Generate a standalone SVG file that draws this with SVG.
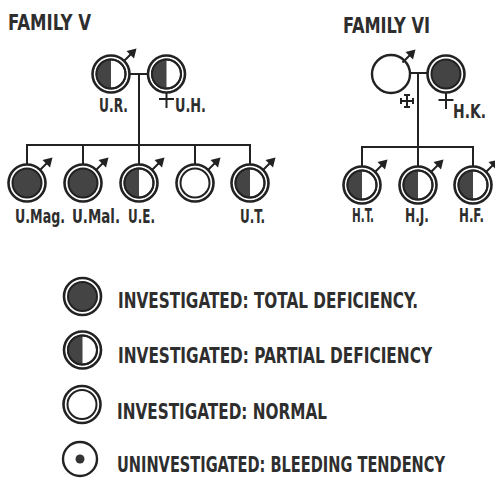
<svg xmlns="http://www.w3.org/2000/svg" xmlns:xlink="http://www.w3.org/1999/xlink" width="495" height="479" viewBox="0 0 495 479">
  <style>
    .ln { stroke: #222; stroke-width: 2; fill: none; stroke-linecap: butt; }
    .outer { stroke: #222; stroke-width: 2.6; fill: #fff; }
    .inner { stroke: #222; stroke-width: 2; fill: #fff; }
    .full { stroke: #222; stroke-width: 2; fill: #444; }
    .dark { fill: #444; stroke: none; }
    .arrowhead { fill: #222; stroke: none; }
    .txt { font-family: "DejaVu Sans Condensed", "Liberation Sans Narrow", "DejaVu Sans", sans-serif; font-weight: bold; fill: #2e2e2e; }
    .title { font-size: 21px; }
    .name { font-size: 20px; }
    .key { font-size: 21px; }
  </style>
  <defs>
    <!-- male sign: arrow leaving the ring at upper right -->
    <g id="mars">
      <line class="ln" x1="12.5" y1="-12.5" x2="21" y2="-21"/>
      <polygon class="arrowhead" points="25.5,-25.5 15.5,-23 23,-15.5"/>
    </g>
    <!-- female sign: stem and bar under the ring -->
    <g id="venus">
      <line class="ln" x1="0" y1="18" x2="0" y2="34"/>
      <line class="ln" x1="-7.5" y1="25" x2="7.5" y2="25"/>
    </g>
    <!-- status symbols -->
    <g id="total">
      <circle class="outer" r="18.5"/>
      <circle class="full" r="14.5"/>
    </g>
    <g id="partial">
      <circle class="outer" r="18.5"/>
      <circle class="inner" r="14.5"/>
      <path class="dark" d="M0,-14.5 A14.5,14.5 0 0,0 0,14.5 Z"/>
      <circle cx="0" cy="0" r="14.5" fill="none" stroke="#222" stroke-width="2"/>
    </g>
    <g id="normal">
      <circle class="outer" r="18.5"/>
      <circle class="inner" r="14.5"/>
    </g>
  </defs>

  <rect width="495" height="479" fill="#fff"/>

  <!-- connectors -->
  <g id="connectors">
    <!-- family V -->
    <line class="ln" x1="130" y1="74" x2="148" y2="74"/>
    <line class="ln" x1="139" y1="74" x2="139" y2="145"/>
    <line class="ln" x1="26" y1="145" x2="251" y2="145"/>
    <line class="ln" x1="27" y1="144" x2="27" y2="164"/>
    <line class="ln" x1="83" y1="144" x2="83" y2="164"/>
    <line class="ln" x1="139" y1="144" x2="139" y2="164"/>
    <line class="ln" x1="195" y1="144" x2="195" y2="164"/>
    <line class="ln" x1="250" y1="144" x2="250" y2="164"/>
    <!-- family VI -->
    <line class="ln" x1="410" y1="73" x2="428" y2="73"/>
    <line class="ln" x1="418" y1="73" x2="418" y2="147"/>
    <line class="ln" x1="361" y1="147" x2="474" y2="147"/>
    <line class="ln" x1="362" y1="146" x2="362" y2="166"/>
    <line class="ln" x1="418" y1="146" x2="418" y2="166"/>
    <line class="ln" x1="473" y1="146" x2="473" y2="166"/>
  </g>

  <!-- family headings -->
  <text class="txt title" x="8" y="30" textLength="83" lengthAdjust="spacingAndGlyphs">FAMILY V</text>
  <text class="txt title" x="343" y="33" textLength="87" lengthAdjust="spacingAndGlyphs">FAMILY VI</text>

  <!-- family V parents -->
  <g id="node-UR">
    <use xlink:href="#partial" x="111" y="74"/>
    <use xlink:href="#mars" x="111" y="74"/>
    <text class="txt name" x="99" y="112" textLength="29" lengthAdjust="spacingAndGlyphs">U.R.</text>
  </g>
  <g id="node-UH">
    <use xlink:href="#partial" x="166.5" y="74"/>
    <use xlink:href="#venus" x="166.5" y="74"/>
    <text class="txt name" x="175" y="112" textLength="31" lengthAdjust="spacingAndGlyphs">U.H.</text>
  </g>

  <!-- family V children -->
  <g id="node-UMag">
    <use xlink:href="#total" x="27" y="183"/>
    <use xlink:href="#mars" x="27" y="183"/>
    <text class="txt name" x="15" y="223" textLength="50" lengthAdjust="spacingAndGlyphs">U.Mag.</text>
  </g>
  <g id="node-UMal">
    <use xlink:href="#total" x="83" y="183"/>
    <use xlink:href="#mars" x="83" y="183"/>
    <text class="txt name" x="72" y="223" textLength="48" lengthAdjust="spacingAndGlyphs">U.Mal.</text>
  </g>
  <g id="node-UE">
    <use xlink:href="#partial" x="139" y="183"/>
    <use xlink:href="#mars" x="139" y="183"/>
    <text class="txt name" x="128" y="223" textLength="27" lengthAdjust="spacingAndGlyphs">U.E.</text>
  </g>
  <g id="node-V4">
    <use xlink:href="#normal" x="195" y="183"/>
    <use xlink:href="#mars" x="195" y="183"/>
  </g>
  <g id="node-UT">
    <use xlink:href="#partial" x="250" y="183"/>
    <use xlink:href="#mars" x="250" y="183"/>
    <text class="txt name" x="240" y="223" textLength="25" lengthAdjust="spacingAndGlyphs">U.T.</text>
  </g>

  <!-- family VI parents -->
  <g id="node-HM">
    <circle cx="391" cy="74" r="19" fill="#fff" stroke="#222" stroke-width="2.4"/>
    <use xlink:href="#mars" x="390" y="75"/>
    <!-- deceased mark -->
    <g class="ln" stroke-width="1.8">
      <line x1="401" y1="101" x2="413" y2="101"/>
      <line x1="407" y1="95" x2="407" y2="107"/>
      <line x1="401" y1="98" x2="401" y2="104"/>
      <line x1="413" y1="98" x2="413" y2="104"/>
      <line x1="404" y1="95" x2="410" y2="95"/>
      <line x1="404" y1="107" x2="410" y2="107"/>
    </g>
  </g>
  <g id="node-HK">
    <use xlink:href="#total" x="446" y="74"/>
    <use xlink:href="#venus" x="446" y="75"/>
    <text class="txt name" x="453" y="118" textLength="33" lengthAdjust="spacingAndGlyphs">H.K.</text>
  </g>

  <!-- family VI children -->
  <g id="node-HT">
    <use xlink:href="#partial" x="362" y="185"/>
    <use xlink:href="#mars" x="362" y="185"/>
    <text class="txt name" x="352" y="222" textLength="22" lengthAdjust="spacingAndGlyphs">H.T.</text>
  </g>
  <g id="node-HJ">
    <use xlink:href="#partial" x="418" y="185"/>
    <use xlink:href="#mars" x="418" y="185"/>
    <text class="txt name" x="405" y="222" textLength="24" lengthAdjust="spacingAndGlyphs">H.J.</text>
  </g>
  <g id="node-HF">
    <use xlink:href="#partial" x="473" y="185"/>
    <use xlink:href="#mars" x="473" y="185"/>
    <text class="txt name" x="459" y="222" textLength="25" lengthAdjust="spacingAndGlyphs">H.F.</text>
  </g>

  <!-- key -->
  <g id="key-total">
    <use xlink:href="#total" x="82.5" y="296.5"/>
    <text class="txt key" x="118" y="308" textLength="300" lengthAdjust="spacingAndGlyphs">INVESTIGATED: TOTAL DEFICIENCY.</text>
  </g>
  <g id="key-partial">
    <use xlink:href="#partial" x="82.5" y="350"/>
    <text class="txt key" x="118" y="363" textLength="314" lengthAdjust="spacingAndGlyphs">INVESTIGATED: PARTIAL DEFICIENCY</text>
  </g>
  <g id="key-normal">
    <use xlink:href="#normal" x="82" y="404.5"/>
    <text class="txt key" x="117" y="419" textLength="210" lengthAdjust="spacingAndGlyphs">INVESTIGATED: NORMAL</text>
  </g>
  <g id="key-uninvestigated">
    <circle cx="80" cy="459" r="17" fill="#fff" stroke="#222" stroke-width="2.4"/>
    <circle cx="80" cy="459" r="4.5" fill="#333"/>
    <text class="txt key" x="117" y="472" textLength="328" lengthAdjust="spacingAndGlyphs">UNINVESTIGATED: BLEEDING TENDENCY</text>
  </g>
</svg>
